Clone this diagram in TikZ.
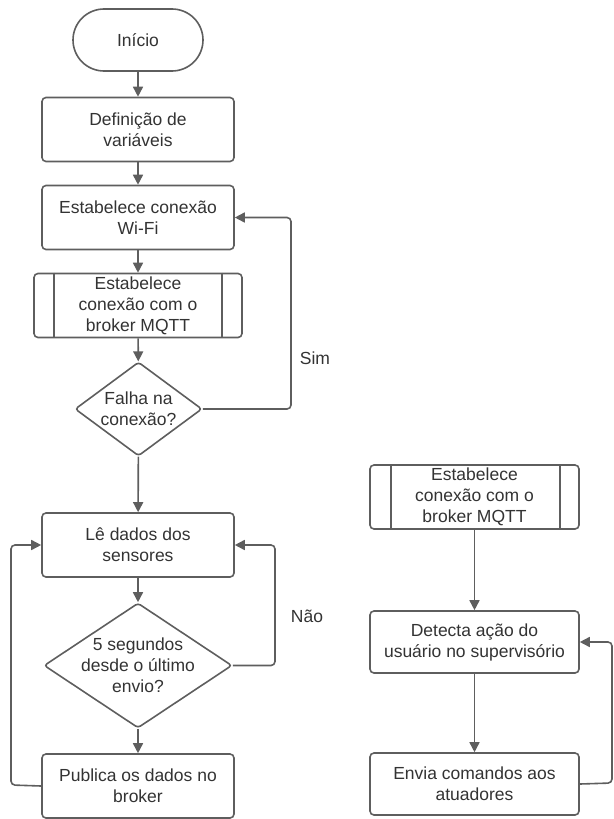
\documentclass[tikz,border=0pt]{standalone}
\usepackage{fontspec}
\setmainfont{Liberation Sans}
\usetikzlibrary{arrows.meta,shapes.geometric}
\definecolor{linec}{HTML}{5E5E5E}
\definecolor{txtc}{HTML}{333333}
\tikzset{
  base/.style={draw=linec, line width=1.6pt, fill=white, text=txtc, align=center,
    font=\fontsize{17.5pt}{21pt}\selectfont, inner sep=0pt},
  procbox/.style={base, rectangle, rounded corners=4pt, minimum width=192pt, minimum height=64pt},
  subbox/.style={base, rectangle, rounded corners=4pt, minimum width=208pt, minimum height=64pt},
  termbox/.style={base, rectangle, rounded corners=31pt, minimum width=130pt, minimum height=62pt},
  decision/.style={base, diamond, rounded corners=3pt},
  dtext/.style={text=txtc, align=center, font=\fontsize{17.5pt}{21pt}\selectfont, inner sep=0pt},
  lbl/.style={text=txtc, font=\fontsize{17.5pt}{21pt}\selectfont, inner sep=0pt},
  conn/.style={draw=linec, line width=1.6pt, rounded corners=4pt, -{Triangle[length=10pt,width=10pt]}},
}
\begin{document}
\begin{tikzpicture}[x=1pt,y=-1pt]
\useasboundingbox (0,0) rectangle (613,819);
% left column
\node[termbox] (start) at (138,40) {Início};
\node[procbox] (def) at (138,129.5) {Definição de\\variáveis};
\node[procbox] (wifi) at (138,217.5) {Estabelece conexão\\Wi-Fi};
\node[subbox] (sub1) at (138,305.5) {Estabelece\\conexão com o\\broker MQTT};
\draw[linec, line width=1.6pt] ([xshift=21pt]sub1.north west) -- ([xshift=21pt]sub1.south west);
\draw[linec, line width=1.6pt] ([xshift=-21pt]sub1.north east) -- ([xshift=-21pt]sub1.south east);
\node[decision, minimum width=127pt, minimum height=94pt] (d1) at (138.5,409) {};
\node[dtext] (d1t) at (d1.center) {Falha na\\conexão?};
\node[procbox] (le) at (138,545) {Lê dados dos\\sensores};
\node[decision, minimum width=188pt, minimum height=125pt] (d2) at (138,665.5) {};
\node[dtext] (d2t) at (d2.center) {5 segundos\\desde o último\\envio?};
\node[procbox] (pub) at (138,786) {Publica os dados no\\broker};
% right column
\node[subbox, minimum width=209pt] (sub2) at (474.5,497) {Estabelece\\conexão com o\\broker MQTT};
\draw[linec, line width=1.6pt] ([xshift=22pt]sub2.north west) -- ([xshift=22pt]sub2.south west);
\draw[linec, line width=1.6pt] ([xshift=-20pt]sub2.north east) -- ([xshift=-20pt]sub2.south east);
\node[procbox, minimum width=209pt, minimum height=62pt] (det) at (474.5,642) {Detecta ação do\\usuário no supervisório};
\node[procbox, minimum width=209pt, minimum height=62pt] (env) at (474.5,784) {Envia comandos aos\\atuadores};
% coordinates for loops
\coordinate (simR) at (291,409);
\coordinate (naoR) at (275,665.5);
\coordinate (pubL) at (11,785);
\coordinate (envR) at (612,783);
% connectors
\draw[conn] (start) -- (def);
\draw[conn] (def) -- (wifi);
\draw[conn] (wifi) -- (sub1);
\draw[conn] (sub1) -- (d1);
\draw[conn] (d1) -- (le);
\draw[conn] (le) -- (d2);
\draw[conn] (d2) -- (pub);
\draw[conn] (d1.east) -- (simR) |- (wifi.east);
\draw[conn] (d2.east) -- (naoR) |- (le.east);
\draw[conn] (pub.west) -- (pubL) |- (le.west);
\draw[conn] (sub2) -- (det);
\draw[conn] (det) -- (env);
\draw[conn] (env.east) -- (envR) |- (det.east);
\node[lbl] (sim) at (315,358) {Sim};
\node[lbl] (nao) at (307,616) {Não};
\end{tikzpicture}
\end{document}
